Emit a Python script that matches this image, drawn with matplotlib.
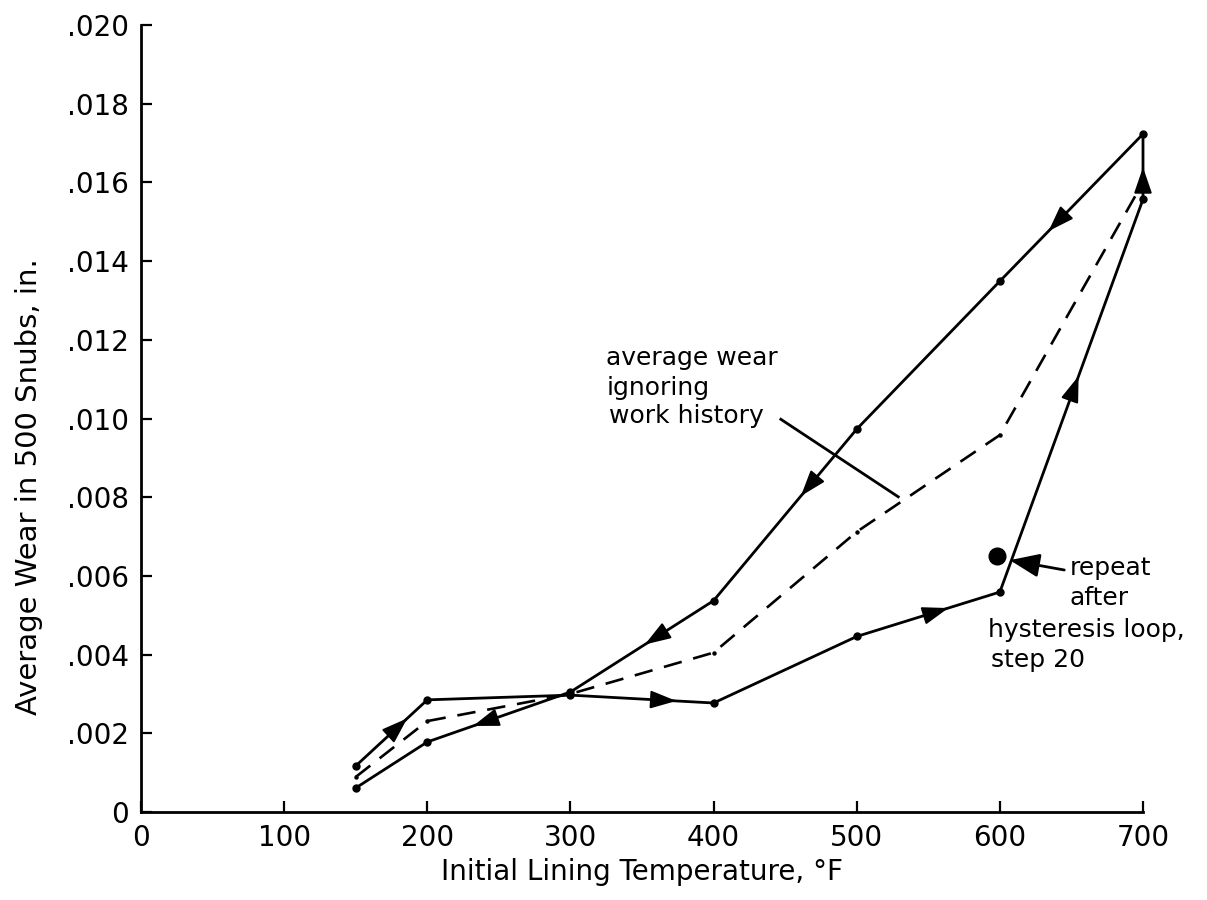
import numpy as np
import matplotlib.pyplot as plt
from matplotlib.ticker import FixedLocator, FixedFormatter

# hysteresis loop, in the order the tests were run
loop_temp = [150, 200, 300, 400, 500, 600, 700, 700, 600, 500, 400, 300, 200, 150]
loop_wear = [0.00117, 0.00285, 0.00297, 0.00277, 0.00446, 0.00559, 0.01557,
             0.01723, 0.01349, 0.00973, 0.00537, 0.00305, 0.00178, 0.00061]

# average wear ignoring work history
avg_temp = [150, 200, 300, 400, 500, 600, 700]
avg_wear = [0.00089, 0.00231, 0.00300, 0.00405, 0.00712, 0.00958, 0.01600]

# repeat point after the loop
repeat_temp = [598]
repeat_wear = [0.00651]

x_ticks = [0, 100, 200, 300, 400, 500, 600, 700]
x_labels = ['0', '100', '200', '300', '400', '500', '600', '700']
y_ticks = [0, 0.002, 0.004, 0.006, 0.008, 0.010, 0.012, 0.014, 0.016, 0.018, 0.020]
y_labels = ['0', '.002', '.004', '.006', '.008', '.010', '.012', '.014', '.016',
            '.018', '.020']

# direction arrows: (segment index, fraction along segment)
arrows = [(0, 0.72), (2, 0.74), (4, 0.64), (5, 0.55), (6, 0.49),
          (7, 0.66), (9, 0.39), (10, 0.48), (11, 0.68)]

plt.rcParams['font.family'] = 'DejaVu Sans'

fig = plt.figure(figsize=(12.07, 9), dpi=100)
ax = fig.add_axes([141 / 1207, 1 - 812 / 900, (1143 - 141) / 1207, (812 - 25) / 900])

ax.plot(loop_temp, loop_wear, color='black', lw=2.0, marker='o', ms=5,
        clip_on=False, zorder=3)
ax.plot(avg_temp, avg_wear, color='black', lw=1.9, dashes=(7, 4.5),
        clip_on=False, zorder=2)
ax.plot(avg_temp[:-1], avg_wear[:-1], ls='none', marker='o', ms=2.2,
        color='black', zorder=2)
ax.plot(repeat_temp, repeat_wear, ls='none', marker='o', ms=12, color='black',
        zorder=3)

# arrowheads along the loop
for i, f in arrows:
    x0, y0 = loop_temp[i], loop_wear[i]
    x1, y1 = loop_temp[i + 1], loop_wear[i + 1]
    tip = (x0 + f * (x1 - x0), y0 + f * (y1 - y0))
    back = (x0 + (f - 0.02) * (x1 - x0), y0 + (f - 0.02) * (y1 - y0))
    ax.annotate('', xy=tip, xytext=back,
                arrowprops=dict(arrowstyle='-|>,head_length=1.45,head_width=0.5',
                                color='black', lw=1.5, shrinkA=0, shrinkB=0,
                                mutation_scale=11), zorder=4)

ax.set_xlim(0, 700)
ax.set_ylim(0, 0.020)
ax.xaxis.set_major_locator(FixedLocator(x_ticks))
ax.xaxis.set_major_formatter(FixedFormatter(x_labels))
ax.yaxis.set_major_locator(FixedLocator(y_ticks))
ax.yaxis.set_major_formatter(FixedFormatter(y_labels))

for side in ['top', 'right']:
    ax.spines[side].set_visible(False)
for side in ['left', 'bottom']:
    ax.spines[side].set_linewidth(2.0)
ax.tick_params(direction='in', length=8, width=1.6, labelsize=20, pad=9)

ax.set_xlabel('Initial Lining Temperature, °F', fontsize=20)
ax.set_ylabel('Average Wear in 500 Snubs, in.', fontsize=21)
ax.xaxis.set_label_coords(0.5, -0.058)
ax.yaxis.set_label_coords(-0.098, 0.414)

# annotation: average wear
for txt, x, y in [('average wear', 325, 0.01136), ('ignoring', 325, 0.0106),
                  ('work history', 327, 0.00989)]:
    ax.text(x, y, txt, fontsize=18, va='baseline', ha='left')
ax.plot([447, 529], [0.00998, 0.00801], color='black', lw=2.0)

# annotation: repeat point
for txt, x, y in [('repeat', 649, 0.00602), ('after', 649, 0.00526),
                  ('hysteresis loop,', 592, 0.00445), ('step 20', 594, 0.00368)]:
    ax.text(x, y, txt, fontsize=18, va='baseline', ha='left', clip_on=False)
ax.annotate('', xy=(607, 0.0064), xytext=(645, 0.00615),
            arrowprops=dict(arrowstyle='-|>,head_length=1.5,head_width=0.6',
                            color='black', lw=2.0, shrinkA=0, shrinkB=0,
                            mutation_scale=12))

fig.savefig('out.png', dpi=100)
